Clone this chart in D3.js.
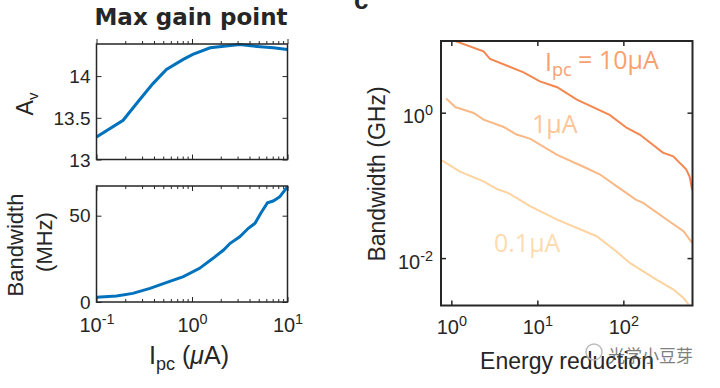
<!DOCTYPE html>
<html><head><meta charset="utf-8">
<script src="https://cdn.jsdelivr.net/npm/d3@7"></script>
<style>
html,body{margin:0;padding:0;background:#fff;}
svg{display:block;}
text{font-family:"Liberation Sans",Arial,sans-serif;fill:#262626;}
</style></head>
<body>
<svg id="chart" width="720" height="388"></svg>
<script>
// ---------- DATA ----------
// Left panels: max gain point vs photocurrent (µA)
const ipcGain = [0.1, 0.19, 0.28, 0.39, 0.54, 0.81, 1.02, 1.55, 3.16, 4.37, 7.08, 10];
const gainAv  = [13.27, 13.47, 13.71, 13.91, 14.08, 14.20, 14.26, 14.34, 14.38, 14.36, 14.34, 14.32];

const ipcBW = [0.1, 0.162, 0.24, 0.363, 0.537, 0.813, 1.2, 1.66, 2.14, 2.51, 3.16, 3.89, 4.57, 5.25, 6.17, 7.08, 8.32, 10];
const bwMHz = [2.7, 3.5, 5.0, 7.9, 11.2, 14.7, 19.5, 25.3, 30.1, 34, 37.8, 42.7, 45.6, 51.4, 57.5, 58.5, 61, 66.8];

// Right panel: bandwidth (GHz) vs energy reduction
const energy10 = [1.05, 2.37, 2.82, 6.92, 10.7, 17.0, 28.8, 69.2, 110, 155, 288, 380, 537, 589, 631];
const bw10     = [9.89, 6.97, 5.47, 3.59, 2.69, 2.24, 1.51, 0.933, 0.617, 0.501, 0.282, 0.251, 0.166, 0.132, 0.087];
const energy1  = [0.871, 1.11, 1.82, 2.37, 4.07, 5.75, 8.32, 17.0, 33.9, 53.7, 83.2, 141, 170, 347, 501, 631];
const bw1      = [1.574, 1.197, 0.991, 0.802, 0.635, 0.501, 0.437, 0.263, 0.182, 0.141, 0.0977, 0.0631, 0.0575, 0.0316, 0.0234, 0.0162];
const energy01 = [0.776, 1.26, 2.37, 3.39, 4.62, 8.32, 17.0, 49.0, 83.2, 120, 245, 380, 501, 575];
const bw01     = [0.221, 0.155, 0.1135, 0.0891, 0.0785, 0.0513, 0.0339, 0.0200, 0.0123, 0.00851, 0.00501, 0.00372, 0.00282, 0.00229];

const seriesLabels = ["Ipc = 10μA", "1μA", "0.1μA"];
const gainTicks = [13, 13.5, 14];
const bwTicks = [0, 50];
const ipcTicks = [0.1, 1, 10];
const energyTicks = [1, 10, 100];
const ghzTicks = [0.01, 1];

// ---------- DRAW ----------
const svg = d3.select("#chart");
const axisCol = "#262626";
const blue = "#0072BD";

function sup(sel) {
  sel.each(function(d) {
    const t = d3.select(this);
    t.text("10");
    t.append("tspan").attr("dy", "-0.55em").attr("font-size", "0.72em").text(Math.round(Math.log10(d)));
  });
}
function logMinor(lo, hi) {
  const out = [];
  for (let e = Math.floor(Math.log10(lo)); e < Math.ceil(Math.log10(hi)); e++)
    for (let k = 2; k <= 9; k++) { const v = k * Math.pow(10, e); if (v > lo && v < hi) out.push(v); }
  return out;
}
function frame(g, x0, y0, x1, y1, w) {
  g.append("rect").attr("x", x0).attr("y", y0).attr("width", x1 - x0).attr("height", y1 - y0)
    .attr("fill", "none").attr("stroke", axisCol).attr("stroke-width", w);
}
function styleAxis(g, w) {
  g.select(".domain").remove();
  g.selectAll(".tick line").attr("stroke", axisCol).attr("stroke-width", w);
}

// ----- Left panels -----
const L = {x0: 96.5, x1: 287.5};
const xIpc = d3.scaleLog().domain([0.1, 10]).range([L.x0, L.x1]);

// Top: gain
const T = {y0: 44, y1: 159.5};
const yGain = d3.scaleLinear().domain([13, 14.385]).range([T.y1, T.y0]);
const gTop = svg.append("g");
const cpTop = svg.append("clipPath").attr("id", "cpTop");
cpTop.append("rect").attr("x", L.x0).attr("y", T.y0 - 2).attr("width", L.x1 - L.x0).attr("height", T.y1 - T.y0 + 2);
gTop.append("path").datum(ipcGain.map((v, i) => [v, gainAv[i]]))
  .attr("clip-path", "url(#cpTop)")
  .attr("d", d3.line().x(d => xIpc(d[0])).y(d => yGain(d[1])))
  .attr("fill", "none").attr("stroke", blue).attr("stroke-width", 3);
[[T.y1, d3.axisBottom], [T.y0, d3.axisTop]].forEach(([yy, ax]) => {
  const a1 = gTop.append("g").attr("transform", `translate(0,${yy})`)
    .call(ax(xIpc).tickValues(ipcTicks).tickSize(yy === T.y1 ? -5 : 5).tickFormat(""));
  styleAxis(a1, 1);
  const a2 = gTop.append("g").attr("transform", `translate(0,${yy})`)
    .call(ax(xIpc).tickValues(logMinor(0.1, 10)).tickSize(yy === T.y1 ? -3 : 3).tickFormat(""));
  styleAxis(a2, 1);
});
const ayL = gTop.append("g").attr("transform", `translate(${L.x0},0)`)
  .call(d3.axisLeft(yGain).tickValues(gainTicks).tickSize(-5).tickPadding(6).tickFormat(d3.format("")));
styleAxis(ayL, 1);
ayL.selectAll("text").attr("font-size", 19).attr("fill", axisCol).attr("dy", "0.36em");
const ayR = gTop.append("g").attr("transform", `translate(${L.x1},0)`)
  .call(d3.axisRight(yGain).tickValues(gainTicks).tickSize(-5).tickFormat(""));
styleAxis(ayR, 1);
frame(gTop, L.x0, T.y0, L.x1, T.y1, 1.5);

// Bottom: bandwidth MHz
const B = {y0: 186, y1: 302};
const yBW = d3.scaleLinear().domain([0, 67.2]).range([B.y1, B.y0]);
const gBot = svg.append("g");
gBot.append("path").datum(ipcBW.map((v, i) => [v, bwMHz[i]]))
  .attr("d", d3.line().x(d => xIpc(d[0])).y(d => yBW(d[1])))
  .attr("fill", "none").attr("stroke", blue).attr("stroke-width", 3);
const bxB = gBot.append("g").attr("transform", `translate(0,${B.y1})`)
  .call(d3.axisBottom(xIpc).tickValues(ipcTicks).tickSize(-5).tickPadding(16));
styleAxis(bxB, 1);
bxB.selectAll("text").attr("font-size", 20).attr("fill", axisCol).call(sup);
const bxBm = gBot.append("g").attr("transform", `translate(0,${B.y1})`)
  .call(d3.axisBottom(xIpc).tickValues(logMinor(0.1, 10)).tickSize(-3).tickFormat(""));
styleAxis(bxBm, 1);
const bxT = gBot.append("g").attr("transform", `translate(0,${B.y0})`)
  .call(d3.axisTop(xIpc).tickValues(ipcTicks).tickSize(-5).tickFormat(""));
styleAxis(bxT, 1);
const bxTm = gBot.append("g").attr("transform", `translate(0,${B.y0})`)
  .call(d3.axisTop(xIpc).tickValues(logMinor(0.1, 10)).tickSize(-3).tickFormat(""));
styleAxis(bxTm, 1);
const byL = gBot.append("g").attr("transform", `translate(${L.x0},0)`)
  .call(d3.axisLeft(yBW).tickValues(bwTicks).tickSize(-5).tickPadding(6));
styleAxis(byL, 1);
byL.selectAll("text").attr("font-size", 19).attr("fill", axisCol);
const byR = gBot.append("g").attr("transform", `translate(${L.x1},0)`)
  .call(d3.axisRight(yBW).tickValues(bwTicks).tickSize(-5).tickFormat(""));
styleAxis(byR, 1);
frame(gBot, L.x0, B.y0, L.x1, B.y1, 1.5);

// Left texts
svg.append("text").attr("x", 191).attr("y", 25).attr("text-anchor", "middle")
  .style("font-family", "'DejaVu Sans',sans-serif").style("font-weight", "bold").attr("font-size", 23).attr("fill", "#000")
  .text("Max gain point");
const avLab = svg.append("text").attr("transform", "translate(33,104) rotate(-90)").attr("text-anchor", "middle").attr("font-size", 23);
avLab.append("tspan").text("A");
avLab.append("tspan").attr("dy", "0.3em").attr("font-size", 15).text("v");
svg.append("text").attr("transform", "translate(23,245) rotate(-90)").attr("text-anchor", "middle").attr("font-size", 22).text("Bandwidth");
svg.append("text").attr("transform", "translate(52,242) rotate(-90)").attr("text-anchor", "middle").attr("font-size", 22).text("(MHz)");
const ipcLab = svg.append("text").attr("x", 189).attr("y", 364).attr("text-anchor", "middle").attr("font-size", 25);
ipcLab.append("tspan").text("I");
ipcLab.append("tspan").attr("dy", "0.35em").attr("font-size", 18).text("pc");
ipcLab.append("tspan").attr("dy", "-0.25em").text(" (");
ipcLab.append("tspan").style("font-style", "italic").text("μ");
ipcLab.append("tspan").text("A)");

// ----- Right panel -----
const R = {x0: 441, x1: 692.5, y0: 41, y1: 305.5};
const xE = d3.scaleLog().domain([Math.pow(10, -0.12), Math.pow(10, 2.804)]).range([R.x0, R.x1]);
const yG = d3.scaleLog().domain([Math.pow(10, -2.652), Math.pow(10, 0.986)]).range([R.y1, R.y0]);
const gR = svg.append("g");
svg.append("clipPath").attr("id", "cpR").append("rect")
  .attr("x", R.x0).attr("y", R.y0).attr("width", R.x1 - R.x0).attr("height", R.y1 - R.y0);
const lineColors = ["#F4874F", "#F9B886", "#FDD39F"];
const labelColors = ["#F9A070", "#FCC595", "#FEDBAE"];
[[energy10, bw10], [energy1, bw1], [energy01, bw01]].forEach(([ex, by], i) => {
  gR.append("path").datum(ex.map((v, j) => [v, by[j]]))
    .attr("clip-path", "url(#cpR)")
    .attr("d", d3.line().x(d => xE(d[0])).y(d => yG(d[1])))
    .attr("fill", "none").attr("stroke", lineColors[i]).attr("stroke-width", 2);
});
const rxB = gR.append("g").attr("transform", `translate(0,${R.y1})`)
  .call(d3.axisBottom(xE).tickValues(energyTicks).tickSize(-5).tickPadding(14));
styleAxis(rxB, 1.5);
rxB.selectAll("text").attr("font-size", 20).attr("fill", axisCol).call(sup);
const rxT = gR.append("g").attr("transform", `translate(0,${R.y0})`)
  .call(d3.axisTop(xE).tickValues(energyTicks).tickSize(-5).tickFormat(""));
styleAxis(rxT, 1.5);
const ryL = gR.append("g").attr("transform", `translate(${R.x0},0)`)
  .call(d3.axisLeft(yG).tickValues(ghzTicks).tickSize(-5).tickPadding(8));
styleAxis(ryL, 1.5);
ryL.selectAll("text").attr("font-size", 20).attr("fill", axisCol).attr("dy", "0.5em").call(sup);
const ryR = gR.append("g").attr("transform", `translate(${R.x1},0)`)
  .call(d3.axisRight(yG).tickValues(ghzTicks).tickSize(-5).tickFormat(""));
styleAxis(ryR, 1.5);
frame(gR, R.x0, R.y0, R.x1, R.y1, 2);

// series labels
const lab10 = gR.append("text").attr("x", 545).attr("y", 71).attr("font-size", 25)
  .style("font-family", "'Open Sans',sans-serif").style("fill", labelColors[0]);
lab10.append("tspan").text("I");
lab10.append("tspan").attr("dy", "0.3em").attr("font-size", 18).text("pc");
lab10.append("tspan").attr("dy", "-0.3em").text(" = 10μA");
gR.append("text").attr("x", 532).attr("y", 133).attr("font-size", 25)
  .style("font-family", "'Open Sans',sans-serif").style("fill", labelColors[1]).text(seriesLabels[1]);
gR.append("text").attr("x", 494).attr("y", 252).attr("font-size", 25)
  .style("font-family", "'Open Sans',sans-serif").style("fill", labelColors[2]).text(seriesLabels[2]);

svg.append("text").attr("transform", "translate(385,174) rotate(-90)").attr("text-anchor", "middle").attr("font-size", 23).text("Bandwidth (GHz)");
svg.append("text").attr("x", 567).attr("y", 369).attr("text-anchor", "middle").attr("font-size", 23).text("Energy reduction");
svg.append("text").attr("x", 354).attr("y", 9).style("font-weight", "bold").attr("font-size", 26).attr("fill", "#000").text("c");

// watermark
svg.append("circle").attr("cx", 594).attr("cy", 352).attr("r", 8).attr("fill", "none").attr("stroke", "#bbb").attr("stroke-width", 1.5);
svg.append("text").attr("x", 608).attr("y", 362).attr("font-size", 17)
  .style("font-family", "'Noto Sans CJK SC',sans-serif").style("fill", "#555").attr("opacity", 0.75).text("光学小豆芽");
</script>
</body></html>
